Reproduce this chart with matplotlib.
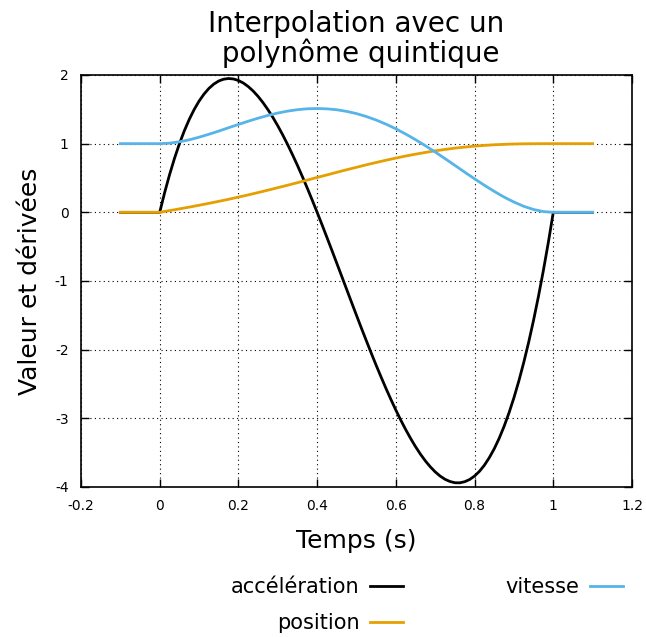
import matplotlib
matplotlib.use("Agg")
import matplotlib.pyplot as plt

# time samples (s) for position / vitesse
t = [-0.1, 0.0, 0.025, 0.05, 0.075, 0.1, 0.125, 0.15, 0.175, 0.2, 0.225, 0.25, 0.275,
     0.3, 0.325, 0.35, 0.375, 0.4, 0.425, 0.45, 0.475, 0.5, 0.525, 0.55, 0.575,
     0.6, 0.625, 0.65, 0.675, 0.7, 0.725, 0.75, 0.775, 0.8, 0.825, 0.85, 0.875,
     0.9, 0.925, 0.95, 0.975, 1.0, 1.1]

vitesse = [1.0, 1.0, 1.007, 1.027, 1.056, 1.094, 1.137, 1.183, 1.232, 1.28, 1.327, 1.371, 1.411,
           1.446, 1.474, 1.495, 1.508, 1.512, 1.507, 1.494, 1.470, 1.438, 1.395, 1.344, 1.284,
           1.216, 1.140, 1.058, 0.970, 0.878, 0.782, 0.684, 0.585, 0.488, 0.394, 0.305, 0.222,
           0.150, 0.088, 0.041, 0.011, 0.0, 0.0]

position = [0.0, 0.0, 0.025, 0.050, 0.076, 0.103, 0.131, 0.160, 0.190, 0.222, 0.254, 0.288, 0.323,
            0.359, 0.395, 0.432, 0.470, 0.508, 0.545, 0.583, 0.620, 0.656, 0.692, 0.726, 0.759,
            0.790, 0.820, 0.847, 0.872, 0.896, 0.916, 0.935, 0.950, 0.964, 0.975, 0.984, 0.990,
            0.995, 0.998, 0.999, 1.0, 1.0, 1.0]

# finer time samples for acceleration
t_acc = [-0.1, 0.0, 0.0125, 0.025, 0.0375, 0.05, 0.0625, 0.075, 0.0875, 0.1, 0.1125, 0.125,
         0.1375, 0.15, 0.1625, 0.175, 0.1875, 0.2, 0.2125, 0.225, 0.2375, 0.25, 0.2625,
         0.275, 0.2875, 0.3, 0.3125, 0.325, 0.3375, 0.35, 0.3625, 0.375, 0.3875, 0.4,
         0.4125, 0.425, 0.4375, 0.45, 0.4625, 0.475, 0.4875, 0.5, 0.5125, 0.525, 0.5375,
         0.55, 0.5625, 0.575, 0.5875, 0.6, 0.6125, 0.625, 0.6375, 0.65, 0.6625, 0.675,
         0.6875, 0.7, 0.7125, 0.725, 0.7375, 0.75, 0.7625, 0.775, 0.7875, 0.8, 0.8125,
         0.825, 0.8375, 0.85, 0.8625, 0.875, 0.8875, 0.9, 0.9125, 0.925, 0.9375, 0.95,
         0.9625, 0.975, 0.9875, 1.0, 1.1]

acceleration = [0.0, 0.0, 0.287, 0.548, 0.785, 0.998, 1.187, 1.353, 1.497, 1.62, 1.722, 1.805,
                1.868, 1.913, 1.939, 1.949, 1.942, 1.92, 1.883, 1.831, 1.766, 1.688, 1.597,
                1.495, 1.383, 1.26, 1.128, 0.987, 0.838, 0.683, 0.520, 0.352, 0.178, 0.0,
                -0.182, -0.367, -0.554, -0.743, -0.932, -1.122, -1.312, -1.5, -1.687, -1.870, -2.051,
                -2.228, -2.399, -2.566, -2.726, -2.88, -3.026, -3.164, -3.293, -3.413, -3.522, -3.620,
                -3.706, -3.78, -3.841, -3.888, -3.920, -3.938, -3.939, -3.923, -3.891, -3.84, -3.771,
                -3.682, -3.572, -3.443, -3.291, -3.117, -2.920, -2.7, -2.455, -2.185, -1.890, -1.568,
                -1.218, -0.841, -0.435, 0.0, 0.0]

xticks = [-0.2, 0.0, 0.2, 0.4, 0.6, 0.8, 1.0, 1.2]
xticklabels = ["-0.2", "0", "0.2", "0.4", "0.6", "0.8", "1", "1.2"]
yticks = [-4, -3, -2, -1, 0, 1, 2]
yticklabels = ["-4", "-3", "-2", "-1", "0", "1", "2"]

plt.rcParams['font.family'] = ['DejaVu Sans']
plt.rcParams['axes.unicode_minus'] = False

fig = plt.figure(figsize=(6.46, 6.37), dpi=100)
ax = fig.add_axes([81/646, 1 - 487/637, (632-81)/646, (487-75)/637])

l_acc, = ax.plot(t_acc, acceleration, color='black', lw=2.0, label='accélération', zorder=3,
                 solid_joinstyle='round')
l_pos, = ax.plot(t, position, color='#E69F00', lw=2.0, label='position', zorder=4,
                 solid_joinstyle='round')
l_vit, = ax.plot(t, vitesse, color='#56B4E9', lw=2.0, label='vitesse', zorder=5,
                 solid_joinstyle='round')

ax.set_xlim(-0.2, 1.2)
ax.set_ylim(-4, 2)
ax.set_xticks(xticks)
ax.set_xticklabels(xticklabels)
ax.set_yticks(yticks)
ax.set_yticklabels(yticklabels)
ax.tick_params(direction='in', top=True, right=True, length=6, width=1, labelsize=10, pad=9)
ax.grid(True, color='black', linestyle=(0, (1, 3)), linewidth=0.8)
for s in ax.spines.values():
    s.set_linewidth(1.2)

ax.set_title("Interpolation avec un\n polynôme quintique", fontsize=20, pad=9, linespacing=1.05)
ax.set_xlabel("Temps (s)", fontsize=18, labelpad=11)
ax.set_ylabel("Valeur et dérivées", fontsize=18, labelpad=9)

leg = fig.legend(handles=[l_acc, l_pos, l_vit], loc='center', ncol=2,
                 bbox_to_anchor=(427/646, 1 - 605/637), frameon=False, markerfirst=False,
                 fontsize=15, handlelength=1.6, handletextpad=0.5, columnspacing=4.9,
                 labelspacing=0.75)

fig.savefig("out.png", dpi=100)
